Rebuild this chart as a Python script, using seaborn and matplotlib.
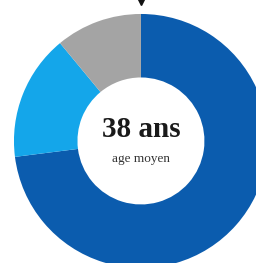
import seaborn as sns
import matplotlib.pyplot as plt

# age groups share (dark blue, light blue, grey)
labels = ['groupe 1', 'groupe 2', 'groupe 3']
shares = [73, 16, 11]
colors = ['#0b5cae', '#14a6ea', '#a4a4a4']

center_big = '38 ans'
center_small = 'age moyen'

sns.set_theme(style='white')

fig = plt.figure(figsize=(2.56, 2.63), dpi=100)
ax = fig.add_axes([0, 0, 1, 1])
ax.pie(shares, colors=sns.color_palette(colors), startangle=90, counterclock=False,
       radius=1, wedgeprops=dict(width=0.5, linewidth=0))

# small pointer at the top
ax.plot([0], [1.10], marker='v', color='#111111', markersize=6)

ax.text(0, 0.09, center_big, ha='center', va='center', fontsize=21,
        family='Liberation Serif', fontweight='bold', color='#1a1a1a')
ax.text(0, -0.14, center_small, ha='center', va='center', fontsize=9.5,
        family='Liberation Serif', color='#333333')

ax.set_xlim(-1.110, 0.906)
ax.set_ylim(-0.961, 1.110)
ax.set_aspect('equal')
ax.axis('off')

fig.savefig('out.png', dpi=100, facecolor='white')
